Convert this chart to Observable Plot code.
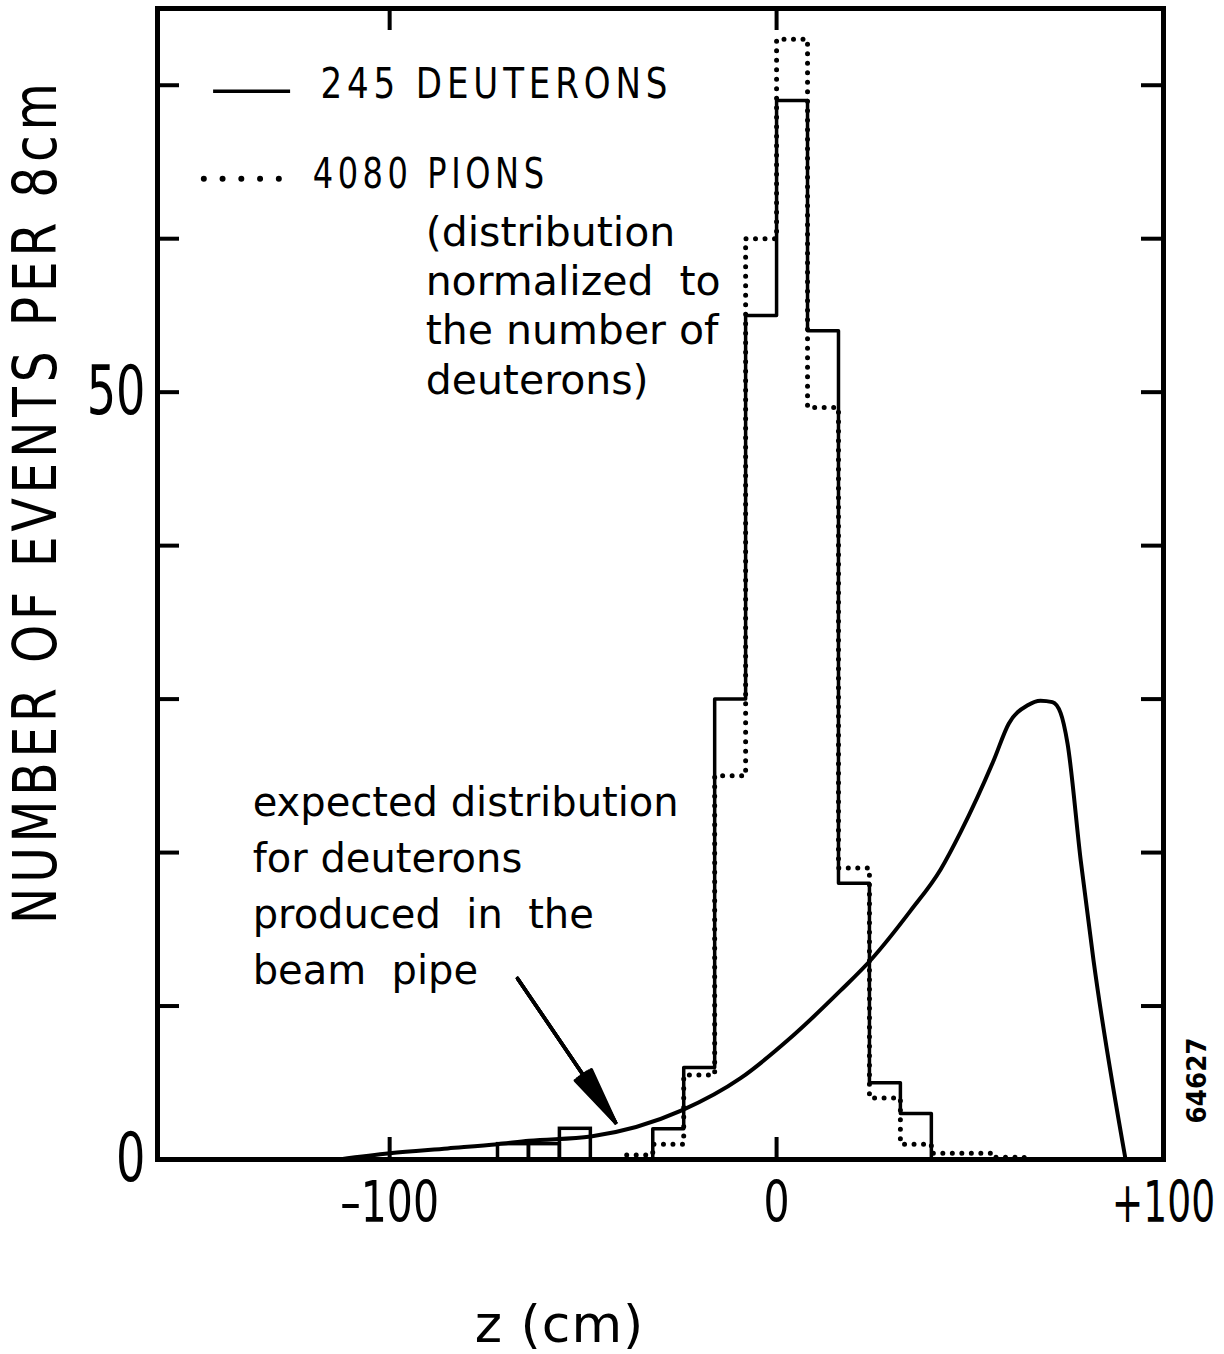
<!DOCTYPE html>
<html><head><meta charset="utf-8">
<script src="https://cdn.jsdelivr.net/npm/d3@7"></script>
<script src="https://cdn.jsdelivr.net/npm/@observablehq/plot@0.6"></script>
<style>
body{margin:0;background:#fff;}
g[aria-description="ylab"] text{letter-spacing:6px;}
g[aria-description="leg"] text{letter-spacing:6px;}
g[aria-description="zlab"] text{letter-spacing:1px;}
</style></head>
<body><div id="chart"></div>
<script>
// ---- data ----
const binStarts = [-72,-64,-56,-48,-40,-32,-24,-16,-8,0,8,16,24,32,40,48,56];
const binWidth = 8;
const deuterons = [1,1,2,0,0,2,6,30,55,69,54,18,5,3,0,0,0];
const pions     = [0,0,0,0,0.3,1,5.5,25,60,73,49,19,4,1,0.4,0.4,0.15];
const curveZ = [-113,-100,-85,-72,-64,-48,-24.5,-9.3,2.8,16.5,24.7,34.6,42.4,47.5,56.1,60.0,64.9,68.2,71.3,73.4,75.2,78.6,81.9,90.2];
const curveN = [0,0.4,0.72,1.0,1.22,1.5,3.2,5.3,7.75,11.0,13.1,16.2,18.9,21.3,26.0,28.4,29.6,29.9,29.8,29.1,27.1,19.5,13.0,0];
const xTicks = [-100,0,100];
const xTickLabels = ["\u2013100","0","+100"];
const yTicks = [10,20,30,40,50,60,70];
const yLabelTicks = [0,50];
const legendLabels = ["245 DEUTERONS","4080 PIONS"];
const legendNote = "(distribution\nnormalized  to\nthe number of\ndeuterons)";
const annotation = "expected distribution\nfor deuterons\nproduced  in  the\nbeam  pipe";

// ---- layout ----
const W = 1224, H = 1354, mL = 157, mR = 61, mT = 8, mB = 195;
const xDomain = [-160, 100], yDomain = [0, 75];
const kx = (xDomain[1]-xDomain[0])/(W-mL-mR);
const ky = (yDomain[1]-yDomain[0])/(H-mT-mB);
const tickLen = 22;
const FONT = "'DejaVu Sans',Verdana,sans-serif";
const arrowFill = [4, 9, 14, 19];   // stacked narrow heads give a solid arrowhead

function runs(values, keep) {
  const pts = []; let run = -1, prev = -2;
  values.forEach((v, i) => {
    if (!(v > 0) || !keep(binStarts[i])) return;
    if (i !== prev + 1) {
      if (run >= 0) pts.push({x: binStarts[prev] + binWidth, y: 0, run});
      run++;
      pts.push({x: binStarts[i], y: 0, run});
    }
    pts.push({x: binStarts[i], y: v, run});
    prev = i;
  });
  if (run >= 0) pts.push({x: binStarts[prev] + binWidth, y: 0, run});
  return pts;
}
const pionPts = runs(pions, () => true);
const deutPts = runs(deuterons, x => x >= -40);
const deutLeft = binStarts.map((x, i) => ({x, v: deuterons[i]})).filter(d => d.x < -40 && d.v > 0);
const curvePts = curveZ.map((x, i) => ({x, y: curveN[i]}));
const xLab = new Map(xTicks.map((t, i) => [t, xTickLabels[i]]));
const arrowOpts = {x1: -66.95, y1: 11.8, x2: -41.6, y2: 2.4, strokeWidth: 3.5, headLength: 26};

const chart = Plot.plot({
  width: W, height: H,
  marginLeft: mL, marginRight: mR, marginTop: mT, marginBottom: mB,
  x: {domain: xDomain}, y: {domain: yDomain},
  style: {background: "white", color: "black", fontFamily: FONT},
  marks: [
    // inward ticks
    Plot.ruleY(yTicks, {x1: xDomain[0], x2: xDomain[0] + tickLen*kx, strokeWidth: 4}),
    Plot.ruleY(yTicks, {x1: xDomain[1] - tickLen*kx, x2: xDomain[1], strokeWidth: 4}),
    Plot.ruleX(xTicks.filter(t => t < xDomain[1]), {y1: yDomain[0], y2: yDomain[0] + tickLen*ky, strokeWidth: 4}),
    Plot.ruleX(xTicks.filter(t => t < xDomain[1]), {y1: yDomain[1] - tickLen*ky, y2: yDomain[1], strokeWidth: 4}),
    // tick labels
    Plot.axisX(xTicks, {tickSize: 0, tickPadding: 22, fontSize: 57, tickFormat: d => xLab.get(d), label: null}),
    Plot.axisY(yLabelTicks, {tickSize: 0, tickPadding: 12, fontSize: 68, label: null}),
    // pion histogram (dotted)
    Plot.line(pionPts, {x: "x", y: "y", z: "run", curve: "step-after", stroke: "black", strokeWidth: 5, strokeDasharray: "0,9.5", strokeLinecap: "round"}),
    // deuteron histogram (solid)
    Plot.rect(deutLeft, {x1: "x", x2: d => d.x + binWidth, y1: 0, y2: "v", fill: "none", stroke: "black", strokeWidth: 3.5}),
    Plot.line(deutPts, {x: "x", y: "y", z: "run", curve: "step-after", stroke: "black", strokeWidth: 3.5}),
    // expected distribution curve
    Plot.line(curvePts, {x: "x", y: "y", curve: "monotone-x", stroke: "black", strokeWidth: 4}),
    // legend
    Plot.ruleY([69.6], {x1: -145.5, x2: -125.6, strokeWidth: 3.5}),
    Plot.ruleY([63.9], {x1: -147.9, x2: -128.5, strokeWidth: 6, strokeDasharray: "0,18.75", strokeLinecap: "round"}),
    Plot.text([legendLabels[0]], {x: -117.9, y: 69.2, text: d => d, textAnchor: "start", lineAnchor: "bottom", fontSize: 42, ariaDescription: "leg"}),
    Plot.text([legendLabels[1]], {x: -119.9, y: 63.3, text: d => d, textAnchor: "start", lineAnchor: "bottom", fontSize: 42, ariaDescription: "leg"}),
    Plot.text([legendNote], {x: -90.7, y: 61.8, text: d => d, textAnchor: "start", lineAnchor: "top", lineHeight: 1.2, fontSize: 41}),
    // annotation + arrow
    Plot.text([annotation], {x: -135.4, y: 25.0, text: d => d, textAnchor: "start", lineAnchor: "top", lineHeight: 1.4, fontSize: 40}),
    ...arrowFill.map(a => Plot.arrow([0], {...arrowOpts, headAngle: a})),
    // axis titles
    Plot.text(["NUMBER OF EVENTS PER 8cm"], {frameAnchor: "left", dx: -121, y: 42.9, text: d => d, rotate: -90, textAnchor: "middle", lineAnchor: "middle", fontSize: 61, ariaDescription: "ylab"}),
    Plot.text(["z (cm)"], {x: -56.1, frameAnchor: "bottom", dy: 166, text: d => d, textAnchor: "middle", lineAnchor: "middle", fontSize: 52, ariaDescription: "zlab"}),
    Plot.text(["64627"], {frameAnchor: "right", dx: 34, y: 5.15, text: d => d, rotate: -90, textAnchor: "middle", lineAnchor: "middle", fontSize: 27, fontWeight: "bold", ariaDescription: "num"}),
    Plot.frame({stroke: "black", strokeWidth: 5})
  ]
});
document.getElementById("chart").appendChild(chart);

// condense glyphs horizontally (the original lettering is narrow)
function condense(selector, fn) {
  chart.querySelectorAll(selector).forEach(t => {
    const L = t.getComputedTextLength();
    const s = fn(L, t.textContent) / L;
    t.setAttribute("transform", (t.getAttribute("transform") || "") + ` scale(${s.toFixed(4)},1)`);
  });
}
condense('g[aria-label="x-axis tick label"] text', (L, s) => L * (s.startsWith("+") ? 0.66 : 0.72));
condense('g[aria-label="y-axis tick label"] text', L => L * 0.68);
condense('g[aria-description="ylab"] text', () => 846);
condense('g[aria-description="leg"] text', (L, s) => s.startsWith("245") ? 352 : 236);
condense('g[aria-description="num"] text', () => 86);
</script>
</body></html>
